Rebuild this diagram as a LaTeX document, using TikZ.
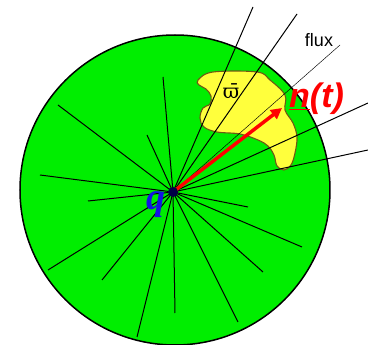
\documentclass[tikz,border=0pt]{standalone}
\usepackage{fontspec}
\setsansfont{Liberation Sans}
\newfontfamily\serifbold{Liberation Serif}
\newfontfamily\greekserif{DejaVu Serif}
\usetikzlibrary{arrows.meta}
\definecolor{ballgreen}{RGB}{0,238,0}
\definecolor{blobyellow}{RGB}{255,255,60}
\definecolor{blobedge}{RGB}{110,90,20}
\definecolor{chargeblue}{RGB}{20,20,230}
\tikzset{
    ray/.style={line width=1pt, black},
    fluxray/.style={line width=0.45pt, black},
}
\begin{document}
\begin{tikzpicture}[x=1pt, y=-1pt]
    \useasboundingbox (0,0) rectangle (368,345);
    \draw[line width=1.5pt, fill=ballgreen] (175,190) circle[radius=155];
    \coordinate (q) at (173,192);
    %
    \draw[fill=blobyellow, draw=blobedge, line width=1.1pt] plot[smooth cycle, tension=0.6] coordinates {
        (198,80) (213,72) (257,72) (270,80) (285,95) (285,110) (293,123) (297,137)
        (295,153) (291,165) (284,170) (277,166) (274,155) (268,146) (258,140) (240,134)
        (217,132) (204,127) (200,118) (203,108) (210,104) (211,96) (206,89) (199,85)};
    %
    \foreach \x/\y [count=\i] in {253/7, 297/14, 368/103, 368/150, 248/207, 302/247,
        263/272, 238/322, 175/313, 137/337, 102/280, 48/270, 88/201, 40/175, 58/105,
        147/135, 163/77}
    {
        \coordinate (r\i) at (\x,\y);
        \draw[ray] (q) -- (r\i);
    }
    \coordinate (f) at (340,45);
    \draw[fluxray] (q) -- (f);
    %
    \draw[red, line width=3.5pt, -{Triangle[length=11pt, width=11pt]}] (q) -- (282,108) coordinate (nt);
    \fill[black!60!blue!70!black] (q) circle[radius=5];
    %
    \node[font=\sffamily\fontsize{18}{18}\selectfont, inner sep=0pt] (fluxlabel) at (319,40) {flux};
    \node[font=\sffamily\bfseries\itshape\fontsize{34}{34}\selectfont, text=red, anchor=west, inner sep=0pt] (ntlabel) at (289,99) {\underline{n}(t)};
    \node[font=\serifbold\bfseries\itshape\fontsize{38}{38}\selectfont, text=chargeblue, inner sep=0pt] (qlabel) at (156,205) {q};
    \node[font=\greekserif\fontsize{20}{20}\selectfont, inner sep=0pt] (omega) at (231,91) {ϖ̄};
\end{tikzpicture}
\end{document}
